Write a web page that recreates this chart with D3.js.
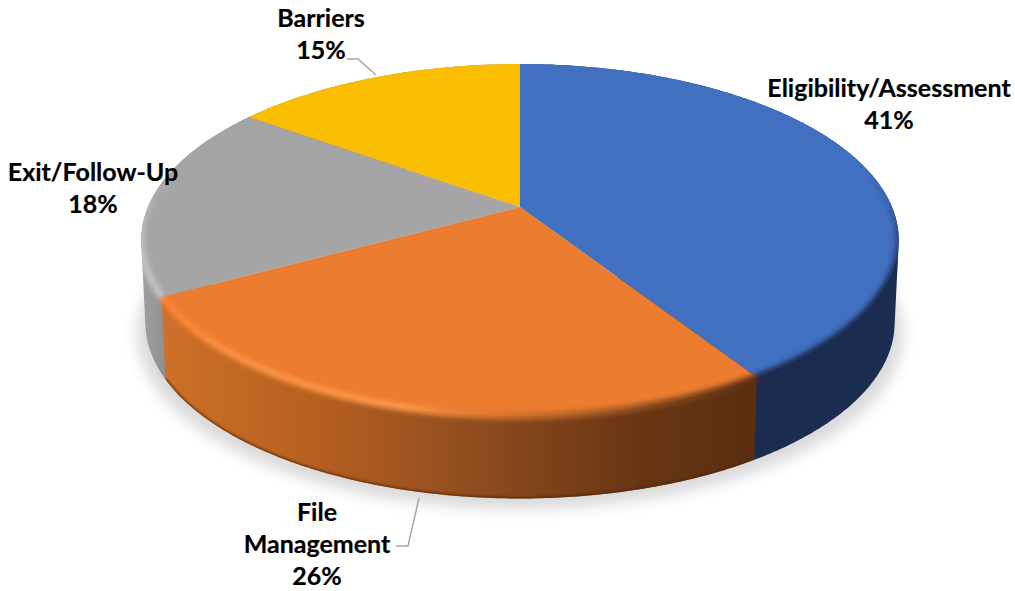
<!DOCTYPE html>
<html>
<head>
<meta charset="utf-8">
<script src="https://cdn.jsdelivr.net/npm/d3@7"></script>
<style>
  html, body { margin: 0; padding: 0; background: #fff; }
  svg { display: block; }
  text { font-family: Lato, "Noto Sans", sans-serif; font-weight: 700; fill: #000; stroke: #000; stroke-width: 0.2; }
</style>
</head>
<body>
<svg id="chart" width="1015" height="591"></svg>
<script>
// Survey share per category, clockwise from twelve o'clock.
const categories = ["Eligibility/Assessment", "File Management", "Exit/Follow-Up", "Barriers"];
const shares = [41, 26, 18, 15];
const topColors = ["#4170c0", "#ec7c30", "#a5a5a5", "#fbbd00"];

// Label blocks: centre x, first baseline, text lines.
const labelLayout = [
  { x: 889, y: 97, lines: ["Eligibility/Assessment", "41%"] },
  { x: 317, y: 521, lines: ["File", "Management", "26%"] },
  { x: 93, y: 181, lines: ["Exit/Follow-Up", "18%"] },
  { x: 321, y: 27, lines: ["Barriers", "15%"] }
];
const leaderLines = [
  [[347, 59], [358, 59], [376, 75]],
  [[396, 546], [408, 546], [419, 498]]
];

const svg = d3.select("#chart");
const defs = svg.append("defs");

// Perspective projection of a unit disc tilted away from the viewer.
const persp = 0.1875;
const topRing = { cx: 520, cy: 207, ax: 372, ay: 169.8 };
const bottomRing = { cx: 520, cy: 289.5, ax: 368, ay: 169.8 };
const project = (ring, angle) => {
  const X = Math.sin(angle), Y = Math.cos(angle), w = 1 + persp * Y;
  return [ring.cx + ring.ax * X / w, ring.cy - ring.ay * Y / w];
};
const arcPoints = (ring, a0, a1) => {
  const n = Math.max(2, Math.ceil((a1 - a0) / 0.01));
  return d3.range(n + 1).map(i => project(ring, a0 + (a1 - a0) * i / n));
};
const line = d3.line();

const slices = d3.pie().sort(null).value(d => d)(shares);

function linearGradient(id, attrs, stops) {
  const g = defs.append("linearGradient").attr("id", id).attr("gradientUnits", "userSpaceOnUse");
  Object.entries(attrs).forEach(([k, v]) => g.attr(k, v));
  stops.forEach(([offset, color, opacity]) => {
    g.append("stop").attr("offset", offset).attr("stop-color", color)
      .attr("stop-opacity", opacity === undefined ? 1 : opacity);
  });
}

function blurFilter(id, dev) {
  defs.append("filter").attr("id", id).attr("filterUnits", "userSpaceOnUse")
    .attr("x", 0).attr("y", 0).attr("width", 1015).attr("height", 591)
    .append("feGaussianBlur").attr("stdDeviation", dev);
}
blurFilter("shadowBlur", 7);
blurFilter("rimBlur", 2.4);
blurFilter("edgeBlur", 1);

// Wall shading runs left to right across the visible front of the disc.
linearGradient("wallOrange", { x1: 165, y1: 0, x2: 760, y2: 0 }, [
  [0, "#cd7029"], [0.25, "#b5601f"], [0.45, "#9a5120"], [0.6, "#84451b"], [0.8, "#683514"], [1, "#5a2e10"]
]);
linearGradient("wallGrey", { x1: 141, y1: 0, x2: 172, y2: 0 }, [[0, "#a0a0a0"], [1, "#8b8b8b"]]);
linearGradient("rimOrange", { x1: 165, y1: 0, x2: 760, y2: 0 }, [
  [0, "#f98436"], [0.1, "#ff9244"], [0.4, "#ff9a4c"], [0.55, "#d9752f"], [0.75, "#a25a24"], [1, "#5a2e10"]
]);
linearGradient("rimGrey", { x1: 0, y1: 170, x2: 0, y2: 260 }, [[0, "#c4c4c4", 0], [1, "#c4c4c4", 1]]);
linearGradient("rimBlue", { x1: 0, y1: 170, x2: 0, y2: 290 }, [[0, "#1a2c50", 0], [1, "#1a2c50", 1]]);

const wallFills = ["#1a2c50", "url(#wallOrange)", "url(#wallGrey)", "#8b8b8b"];
const rimStrokes = ["url(#rimBlue)", "url(#rimOrange)", "url(#rimGrey)", "none"];

// Soft ground shadow beneath the disc.
svg.append("path")
  .attr("d", line(arcPoints({ ...bottomRing, cy: 300, ax: 376 }, 0, 2 * Math.PI)) + "Z")
  .attr("fill", "#8c8c8c").attr("opacity", 0.32)
  .attr("filter", "url(#shadowBlur)");

// Outer walls, back to front so the orange wedge overlaps its neighbours.
const wallHull = d => d3.polygonHull(
  arcPoints(topRing, d.startAngle, d.endAngle).concat(arcPoints(bottomRing, d.startAngle, d.endAngle))
);
[3, 0, 2, 1].forEach(i => {
  svg.append("path")
    .attr("class", "wall")
    .attr("d", line(wallHull(slices[i])) + "Z")
    .attr("fill", wallFills[i]);
});

// Flat top faces.
svg.append("g").selectAll("path").data(slices).join("path")
  .attr("d", d => {
    const pts = arcPoints(topRing, d.startAngle, d.endAngle);
    return line([[topRing.cx, topRing.cy], ...pts]) + "Z";
  })
  .attr("fill", (d, i) => topColors[i]);

// Bevel along the front rim, kept inside the solid's outline.
const solidOutline = d3.polygonHull(
  arcPoints(topRing, 0, 2 * Math.PI).concat(arcPoints(bottomRing, 0, 2 * Math.PI))
);
defs.append("clipPath").attr("id", "solidClip")
  .append("path").attr("d", line(solidOutline) + "Z");

const bevel = svg.append("g").attr("clip-path", "url(#solidClip)");
const rims = bevel.append("g").attr("filter", "url(#rimBlur)");
slices.forEach((d, i) => {
  if (rimStrokes[i] === "none") return;
  rims.append("path")
    .attr("d", line(arcPoints(topRing, d.startAngle, d.endAngle)))
    .attr("fill", "none")
    .attr("stroke", rimStrokes[i])
    .attr("stroke-width", 7);
});

// Darker lower lip of the orange wall.
bevel.append("path")
  .attr("d", line(arcPoints(bottomRing, slices[1].startAngle, slices[1].endAngle)))
  .attr("fill", "none")
  .attr("stroke", "#4a2508").attr("stroke-opacity", 0.7).attr("stroke-width", 3)
  .attr("filter", "url(#edgeBlur)");

// Leader lines.
svg.append("g").selectAll("path").data(leaderLines).join("path")
  .attr("d", d => line(d))
  .attr("fill", "none").attr("stroke", "#a6a6a6").attr("stroke-width", 1.5);

// Category and percentage labels.
const labels = svg.append("g").selectAll("text").data(labelLayout).join("text")
  .attr("text-anchor", "middle")
  .attr("font-size", 25);
labels.selectAll("tspan").data(d => d.lines.map(t => ({ t, x: d.x, y: d.y }))).join("tspan")
  .attr("x", d => d.x)
  .attr("y", (d, i) => d.y + i * 32)
  .text(d => d.t);
</script>
</body>
</html>
